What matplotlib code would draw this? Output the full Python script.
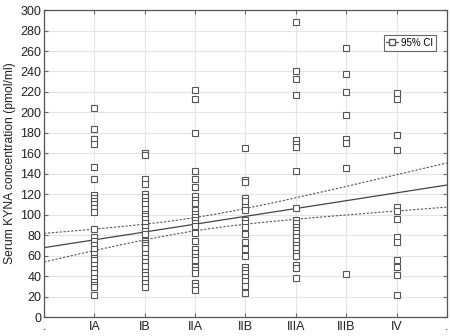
import numpy as np
import matplotlib
matplotlib.use("Agg")
import matplotlib.pyplot as plt
from matplotlib.lines import Line2D

plt.rcParams['font.family'] = ['Liberation Sans', 'DejaVu Sans']

stages = ['IA', 'IB', 'IIA', 'IIB', 'IIIA', 'IIIB', 'IV']
tick_labels = ['.', 'IA', 'IB', 'IIA', 'IIB', 'IIIA', 'IIIB', 'IV', '.']

ia = [204, 184, 174, 169, 147, 135, 119, 116, 113, 110, 107, 103, 86, 78, 74, 70,
      66, 62, 58, 56, 51, 47, 43, 38, 34, 31, 29, 22]
ib = [160, 158, 135, 130, 120, 117, 113, 110, 106, 101, 99, 96, 92, 88, 84, 81,
      74, 72, 70, 67, 62, 58, 54, 50, 44, 41, 37, 33, 29]
iia = [222, 213, 180, 143, 135, 127, 118, 114, 111, 105, 101, 98, 95, 92, 89, 82,
       74, 66, 63, 59, 56, 49, 46, 43, 33, 30, 26]
iib = [165, 134, 132, 116, 113, 108, 105, 95, 92, 88, 81, 73, 66, 60, 49, 46, 43,
       39, 35, 30, 23]
iiia = [288, 240, 233, 217, 173, 169, 166, 143, 107, 95, 92, 88, 85, 82, 78, 74,
        70, 67, 63, 60, 51, 48, 38]
iiib = [263, 238, 220, 197, 174, 170, 146, 42]
iv = [219, 213, 178, 163, 108, 104, 96, 78, 73, 56, 49, 41, 22]

groups = [ia, ib, iia, iib, iiia, iiib, iv]

# regression line and 95% CI
fit_intercept = 67.8
fit_slope = 7.65
ci_center = 3.0      # stage position where the band is narrowest
ci_min_half = 6.5    # half width there
ci_spread = 17.0     # growth of squared half width

x = np.concatenate([np.full(len(g), i + 1) for i, g in enumerate(groups)]).astype(float)
y = np.concatenate([np.array(g, dtype=float) for g in groups])

xs = np.linspace(0, 8, 100)
fit = fit_intercept + fit_slope * xs
half = np.sqrt(ci_min_half ** 2 + ci_spread * (xs - ci_center) ** 2)

fig = plt.figure(figsize=(4.5, 3.36), dpi=100)
ax = fig.add_axes([0.098, 0.0565, 0.895, 0.9135])

ax.grid(True, color='#e4e4e4', linewidth=0.8, zorder=0)
ax.plot(x, y, 's', ms=3.8, mfc='white', mec='#555555', mew=0.8, zorder=3)
ax.plot(xs, fit, color='#444444', lw=0.9, zorder=2)
ax.plot(xs, fit + half, color='#555555', lw=0.8, ls=(0, (2, 1.5)), zorder=2)
ax.plot(xs, fit - half, color='#555555', lw=0.8, ls=(0, (2, 1.5)), zorder=2)

ax.set_xlim(0, 8)
ax.set_ylim(0, 300)
ax.set_xticks(range(9))
ax.set_xticklabels(tick_labels)
ax.set_yticks(range(0, 301, 20))
ax.tick_params(direction='in', top=True, right=True, length=3, color='#666666',
               labelsize=9, labelcolor='#222222')
ax.tick_params(axis='x', pad=3)
ax.tick_params(axis='y', pad=2)
for sp in ax.spines.values():
    sp.set_color('#555555')
    sp.set_linewidth(0.9)

ax.set_ylabel('Serum KYNA concentration (pmol/ml)', fontsize=8.7, color='#222222', labelpad=3)

h = Line2D([0], [0], color='#555555', lw=0.8, marker='s', ms=3.8, mfc='white', mec='#555555')
leg = ax.legend([h], ['95% CI'], loc='upper right', bbox_to_anchor=(0.985, 0.935),
                fontsize=7, frameon=True, fancybox=False, handlelength=1.2,
                handletextpad=0.3, borderpad=0.3, edgecolor='#444444')
leg.get_frame().set_linewidth(0.8)

fig.savefig('out.png', dpi=100)
